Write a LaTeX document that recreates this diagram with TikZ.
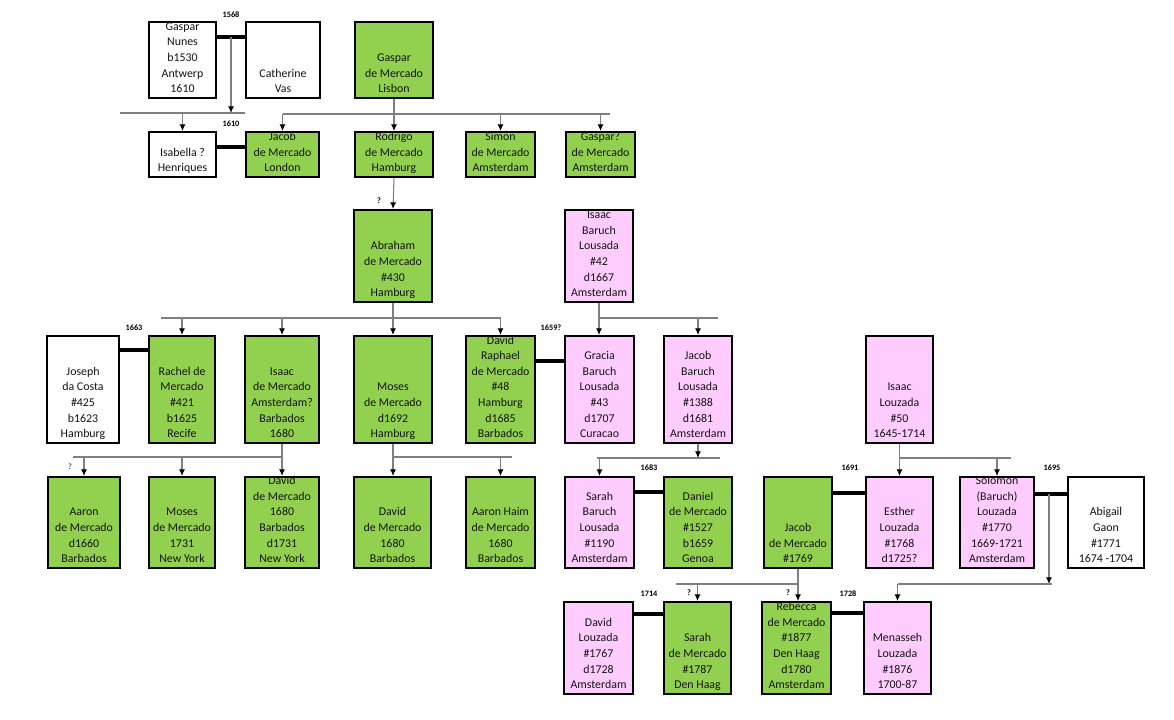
\documentclass[tikz,border=0pt]{standalone}
\usepackage{fontspec}
\setmainfont{Carlito}
\usetikzlibrary{arrows.meta}
\definecolor{fgreen}{HTML}{92D050}
\definecolor{fpink}{HTML}{FFCCFF}
\definecolor{fline}{HTML}{7F7F7F}
\definecolor{ftext}{HTML}{141414}
\definecolor{qblue}{HTML}{3A5FB0}
\tikzset{
 pbox/.style={draw=black, line width=1.5pt, inner sep=0pt},
 ptext/.style={align=center, inner sep=0pt, font=\fontsize{8.9pt}{11.7pt}\selectfont, text=ftext, anchor=south},
 conn/.style={draw=fline, line width=0.8pt},
 arr/.style={conn, -{Latex[length=5pt,width=4.5pt,color=black]}},
 marr/.style={draw=black, line width=3.2pt},
 yr/.style={font=\bfseries\fontsize{6.2pt}{7pt}\selectfont, inner sep=0pt},
}
\newcommand\famnode[7]{%
  \pgfmathsetmacro\famw{(#4-#2-2)*0.75}%
  \pgfmathsetmacro\famh{(#5-#3-2)*0.75}%
  \node[pbox, fill=#6, minimum width=\famw pt, minimum height=\famh pt] (#1) at ({(#2+#4)/2},{(#3+#5)/2}) {};
  \node[ptext] (#1-t) at ({(#2+#4)/2},{#5-1.3}) {#7\strut};
}
\begin{document}
\begin{tikzpicture}[x=0.75pt,y=-0.75pt]
\fill[white] (0,0) rectangle (1174,720);
\path[use as bounding box] (0,0) rectangle (1174,720);

% Row 1
\famnode{gnunes}{148}{21}{217}{99}{white}{Gaspar\\Nunes\\b1530\\Antwerp\\1610}
\famnode{cvas}{245}{21}{321}{99}{white}{Catherine\\Vas}
\famnode{gdm}{354}{21}{434}{99}{fgreen}{Gaspar\\de Mercado\\Lisbon}
% Row 2
\famnode{isabella}{148}{131}{217}{178}{white}{Isabella ?\\Henriques}
\famnode{jacobL}{245}{131}{320}{178}{fgreen}{Jacob\\de Mercado\\London}
\famnode{rodrigo}{354}{131}{434}{178}{fgreen}{Rodrigo\\de Mercado\\Hamburg}
\famnode{simon}{465}{131}{536}{178}{fgreen}{Simon\\de Mercado\\Amsterdam}
\famnode{gaspar2}{565}{131}{636}{178}{fgreen}{Gaspar?\\de Mercado\\Amsterdam}
% Row 3
\famnode{abraham}{353}{209}{433}{303}{fgreen}{Abraham\\de Mercado\\\#430\\Hamburg}
\famnode{isaacBL}{564}{209}{634}{303}{fpink}{Isaac\\Baruch\\Lousada\\\#42\\d1667\\Amsterdam}
% Row 4
\famnode{joseph}{46}{335}{120}{444}{white}{Joseph\\da Costa\\\#425\\b1623\\Hamburg}
\famnode{rachel}{148}{335}{216}{444}{fgreen}{Rachel de\\Mercado\\\#421\\b1625\\Recife}
\famnode{isaacM}{244}{335}{320}{444}{fgreen}{Isaac\\de Mercado\\Amsterdam?\\Barbados\\1680}
\famnode{moses}{353}{335}{433}{444}{fgreen}{Moses\\de Mercado\\d1692\\Hamburg}
\famnode{davidR}{465}{335}{536}{444}{fgreen}{David\\Raphael\\de Mercado\\\#48\\Hamburg\\d1685\\Barbados}
\famnode{gracia}{564}{335}{635}{444}{fpink}{Gracia\\Baruch\\Lousada\\\#43\\d1707\\Curacao}
\famnode{jacobB}{663}{335}{733}{444}{fpink}{Jacob\\Baruch\\Lousada\\\#1388\\d1681\\Amsterdam}
\famnode{isaacL}{865}{335}{934}{444}{fpink}{Isaac\\Louzada\\\#50\\1645-1714}
% Row 5
\famnode{aaron}{47}{476}{121}{569}{fgreen}{Aaron\\de Mercado\\d1660\\Barbados}
\famnode{mosesNY}{148}{476}{216}{569}{fgreen}{Moses\\de Mercado\\1731\\New York}
\famnode{davidNY}{244}{476}{320}{569}{fgreen}{David\\de Mercado\\1680\\Barbados\\d1731\\New York}
\famnode{davidM}{353}{476}{432}{569}{fgreen}{David\\de Mercado\\1680\\Barbados}
\famnode{aaronH}{465}{476}{536}{569}{fgreen}{Aaron Haim\\de Mercado\\1680\\Barbados}
\famnode{sarahB}{564}{476}{635}{569}{fpink}{Sarah\\Baruch\\Lousada\\\#1190\\Amsterdam}
\famnode{daniel}{663}{476}{733}{569}{fgreen}{Daniel\\de Mercado\\\#1527\\b1659\\Genoa}
\famnode{jacobM}{763}{476}{833}{569}{fgreen}{Jacob\\de Mercado\\\#1769}
\famnode{esther}{865}{476}{934}{569}{fpink}{Esther\\Louzada\\\#1768\\d1725?}
\famnode{solomon}{959}{476}{1035}{569}{fpink}{Solomon\\(Baruch)\\Louzada\\\#1770\\1669-1721\\Amsterdam}
\famnode{abigail}{1067}{476}{1145}{569}{white}{Abigail\\Gaon\\\#1771\\1674 -1704}
% Row 6
\famnode{davidL}{563}{601}{634}{695}{fpink}{David\\Louzada\\\#1767\\d1728\\Amsterdam}
\famnode{sarahM}{663}{601}{732}{695}{fgreen}{Sarah\\de Mercado\\\#1787\\Den Haag}
\famnode{rebecca}{761}{601}{832}{695}{fgreen}{Rebecca\\de Mercado\\\#1877\\Den Haag\\d1780\\Amsterdam}
\famnode{menasseh}{863}{601}{932}{695}{fpink}{Menasseh\\Louzada\\\#1876\\1700-87}

% Marriages
\draw[marr] (gnunes.east |- 0,37) -- (cvas.west |- 0,37);
\draw[marr] (isabella.east |- 0,147) -- (jacobL.west |- 0,147);
\draw[marr] (joseph.east |- 0,350) -- (rachel.west |- 0,350);
\draw[marr] (davidR.east |- 0,361) -- (gracia.west |- 0,361);
\draw[marr] (sarahB.east |- 0,492) -- (daniel.west |- 0,492);
\draw[marr] (jacobM.east |- 0,493) -- (esther.west |- 0,493);
\draw[marr] (solomon.east |- 0,494) -- (abigail.west |- 0,494);
\draw[marr] (davidL.east |- 0,614) -- (sarahM.west |- 0,614);
\draw[marr] (rebecca.east |- 0,613) -- (menasseh.west |- 0,613);

% Year labels
\node[yr] (y1568) at (231,15) {1568};
\node[yr] (y1610) at (231,124) {1610};
\node[yr] (y1663) at (134,328) {1663};
\node[yr] (y1659) at (551,328) {1659?};
\node[yr] (y1683) at (649,468) {1683};
\node[yr] (y1691) at (850,468) {1691};
\node[yr] (y1695) at (1052,468) {1695};
\node[yr] (y1714) at (649,594) {1714};
\node[yr] (y1728) at (848,594) {1728};
\node[yr] (q1) at (379,201) {?};
\node[yr, text=qblue] (q2) at (70,467) {?};
\node[yr] (q3) at (689,593) {?};
\node[yr] (q4) at (788,593) {?};

% Gaspar Nunes + Catherine -> Isabella
\coordinate (m1) at (231,37);
\coordinate (nbL) at (120,113);
\coordinate (nbR) at (245,113);
\draw[arr] (m1) -- (m1 |- nbL);
\draw[conn] (nbL) -- (nbR);
\draw[arr] (isabella.north |- nbL) -- (isabella.north);

% Gaspar de Mercado -> children
\coordinate (gbR) at (610,114);
\draw[conn] (jacobL.north |- gbR) -- (gbR);
\draw[arr] (gdm.south) -- (gdm.south |- rodrigo.north);
\draw[arr] (jacobL.north |- gbR) -- (jacobL.north);
\draw[arr] (simon.north |- gbR) -- (simon.north);
\draw[arr] (gaspar2.north |- gbR) -- (gaspar2.north);

% Rodrigo -> Abraham
\draw[arr] (rodrigo.south) -- (abraham.north);

% Abraham -> children
\coordinate (abL) at (161,318);
\draw[conn] (abL) -- (davidR.north |- abL);
\draw[arr] (abraham.south) -- (moses.north);
\draw[arr] (rachel.north |- abL) -- (rachel.north);
\draw[arr] (isaacM.north |- abL) -- (isaacM.north);
\draw[arr] (davidR.north |- abL) -- (davidR.north);

% Isaac Baruch Lousada -> children
\coordinate (ibR) at (718,318);
\draw[conn] (isaacBL.south |- ibR) -- (ibR);
\draw[arr] (isaacBL.south) -- (isaacBL.south |- gracia.north);
\draw[arr] (jacobB.north |- ibR) -- (jacobB.north);

% Isaac de Mercado -> children
\coordinate (imL) at (73,457);
\draw[conn] (imL) -- (isaacM.south |- imL);
\draw[arr] (isaacM.south) -- (isaacM.south |- davidNY.north);
\draw[arr] (aaron.north |- imL) -- (aaron.north);
\draw[arr] (mosesNY.north |- imL) -- (mosesNY.north);

% Moses -> children
\coordinate (moR) at (512,457);
\draw[conn] (moses.south |- moR) -- (moR);
\draw[arr] (moses.south) -- (moses.south |- davidM.north);
\draw[arr] (aaronH.north |- moR) -- (aaronH.north);

% Jacob Baruch Lousada -> Sarah
\coordinate (jbL) at (597,458);
\coordinate (jbR) at (720,458);
\draw[conn] (jbL) -- (jbR);
\draw[arr] (jacobB.south) -- (jacobB.south |- jbL);
\draw[arr] (sarahB.north |- jbL) -- (sarahB.north);

% Isaac Louzada -> children
\coordinate (ilR) at (1011,458);
\draw[conn] (isaacL.south |- ilR) -- (ilR);
\draw[arr] (isaacL.south) -- (isaacL.south |- esther.north);
\draw[arr] (solomon.north |- ilR) -- (solomon.north);

% Jacob de Mercado + Esther -> children
\coordinate (jmL) at (676,584);
\draw[conn] (jmL) -- (jacobM.south |- jmL);
\draw[arr] (jacobM.south) -- (jacobM.south |- rebecca.north);
\draw[arr] (sarahM.north |- jmL) -- (sarahM.north);

% Solomon + Abigail -> Menasseh
\coordinate (m2) at (1049,494);
\coordinate (smR) at (1052,584);
\draw[arr] (m2) -- (m2 |- smR);
\draw[conn] (menasseh.north |- smR) -- (smR);
\draw[arr] (menasseh.north |- smR) -- (menasseh.north);
\end{tikzpicture}
\end{document}
